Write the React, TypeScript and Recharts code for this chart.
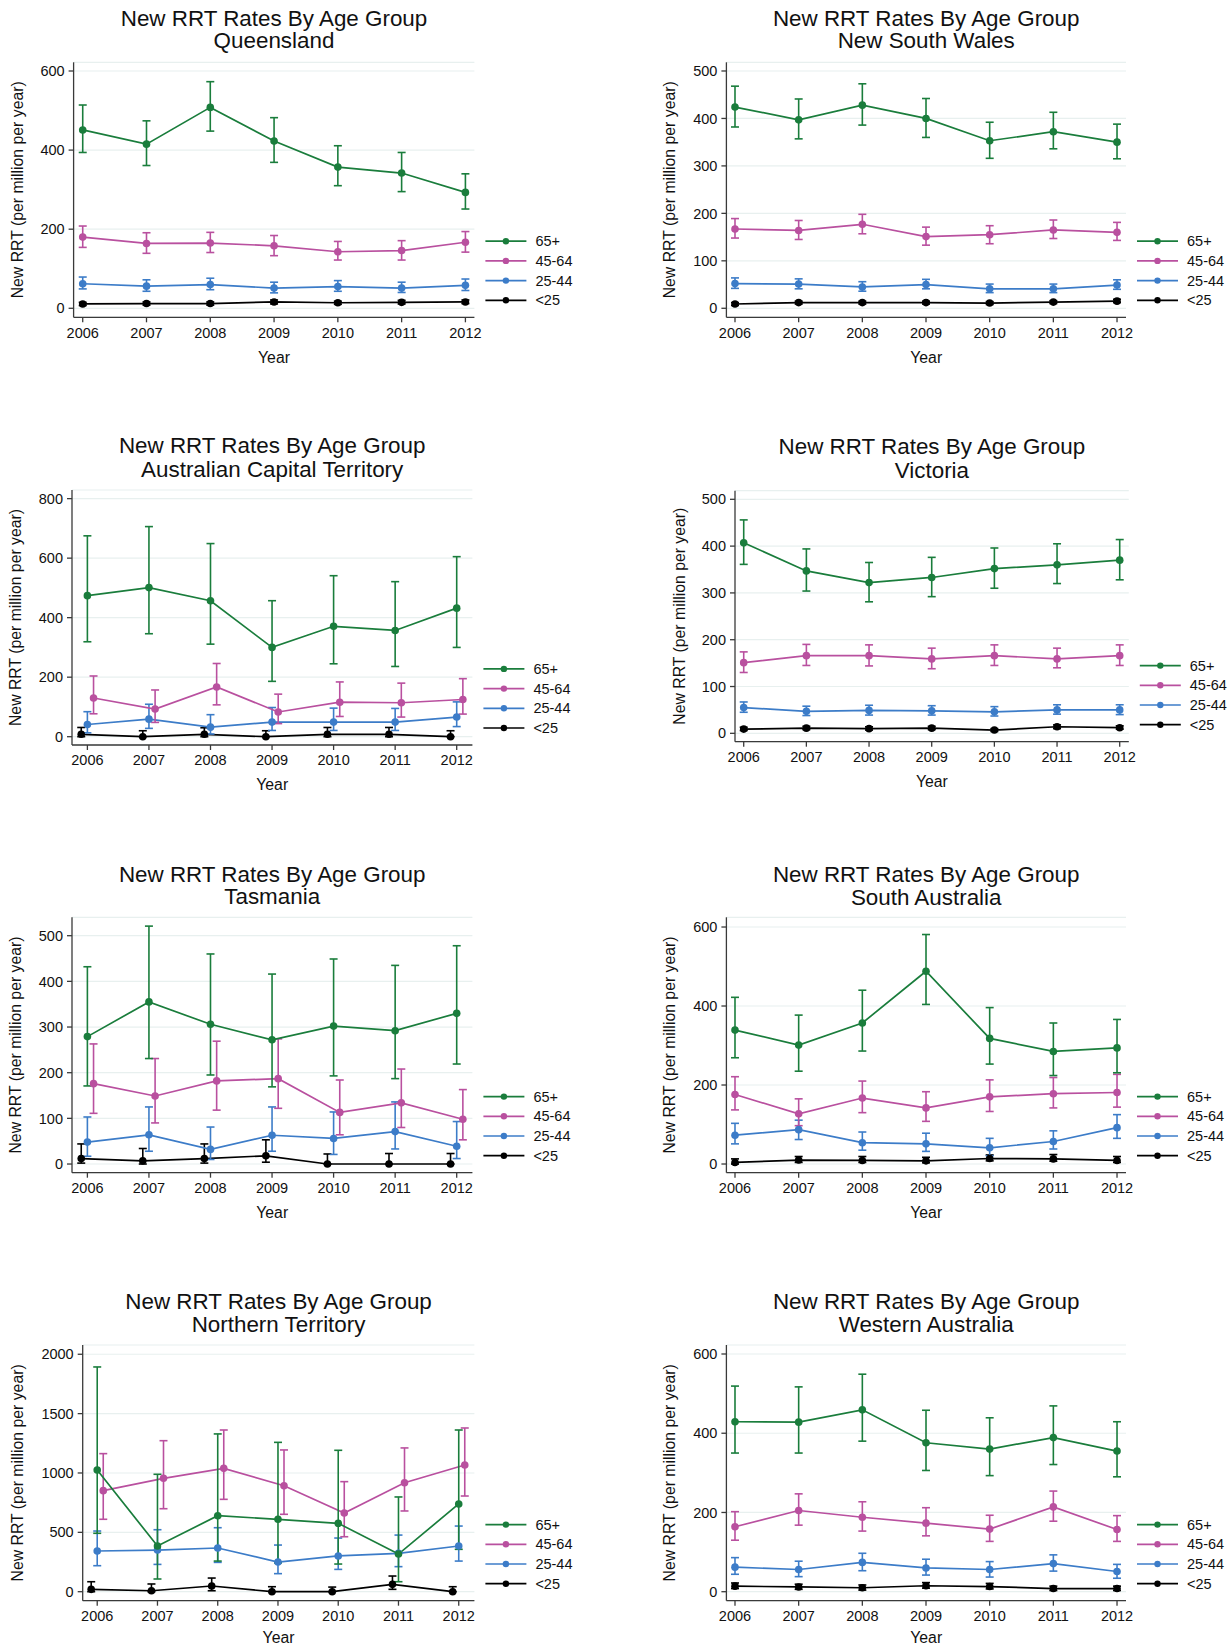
import React from 'react';
import { LineChart, Line, XAxis, YAxis, CartesianGrid, ErrorBar } from 'recharts';

// ---------- shared categories ----------
const YEARS = [2006, 2007, 2008, 2009, 2010, 2011, 2012];
const AGE_GROUPS = ['65+', '45-64', '25-44', '<25'];
const GROUP_COLORS = ['#1a7d3c', '#b9509f', '#3c7cc8', '#000000'];
const TITLE_LINE1 = 'New RRT Rates By Age Group';
const Y_TITLE = 'New RRT (per million per year)';
const X_TITLE = 'Year';

// ---------- Queensland ----------
const QLD_65 = [451, 415, 508, 423, 357, 342, 293];
const QLD_65_LO = [394, 361, 448, 369, 310, 295, 251];
const QLD_65_HI = [514, 474, 573, 482, 411, 394, 340];
const QLD_45 = [180, 164, 165, 158, 143, 146, 167];
const QLD_45_LO = [154, 139, 141, 133, 122, 122, 142];
const QLD_45_HI = [208, 191, 192, 184, 169, 171, 194];
const QLD_25 = [62, 56, 60, 51, 55, 51, 58];
const QLD_25_LO = [49, 43, 47, 39, 43, 40, 45];
const QLD_25_HI = [79, 72, 76, 66, 70, 66, 74];
const QLD_U25 = [11, 12, 12, 16, 14, 15, 16];
const QLD_U25_LO = [7, 8, 8, 11, 10, 11, 12];
const QLD_U25_HI = [15, 16, 16, 21, 18, 20, 21];

// ---------- New South Wales ----------
const NSW_65 = [424, 397, 428, 400, 353, 372, 350];
const NSW_65_LO = [382, 357, 386, 360, 316, 336, 315];
const NSW_65_HI = [468, 441, 473, 442, 392, 413, 388];
const NSW_45 = [167, 164, 177, 151, 155, 165, 160];
const NSW_45_LO = [148, 145, 157, 133, 136, 147, 143];
const NSW_45_HI = [189, 185, 198, 171, 174, 186, 181];
const NSW_25 = [52, 51, 45, 50, 41, 41, 49];
const NSW_25_LO = [42, 41, 36, 41, 33, 33, 40];
const NSW_25_HI = [64, 62, 56, 61, 51, 51, 60];
const NSW_U25 = [9, 12, 12, 12, 11, 13, 15];
const NSW_U25_LO = [6, 9, 9, 9, 8, 10, 12];
const NSW_U25_HI = [12, 15, 15, 15, 14, 16, 19];

// ---------- Australian Capital Territory ----------
const ACT_65 = [474, 501, 457, 300, 371, 357, 432];
const ACT_65_LO = [319, 346, 311, 186, 245, 236, 300];
const ACT_65_HI = [675, 706, 649, 457, 541, 521, 605];
const ACT_45 = [130, 93, 167, 83, 116, 114, 125];
const ACT_45_LO = [77, 48, 107, 44, 68, 66, 76];
const ACT_45_HI = [204, 157, 246, 143, 184, 180, 195];
const ACT_25 = [41, 59, 32, 49, 49, 49, 66];
const ACT_25_LO = [13, 28, 9, 21, 21, 21, 34];
const ACT_25_HI = [84, 109, 74, 98, 96, 95, 117];
const ACT_U25 = [8, 0, 8, 0, 8, 8, 0];
const ACT_U25_LO = [0, 0, 0, 0, 0, 0, 0];
const ACT_U25_HI = [31, 20, 30, 20, 31, 31, 20];

// ---------- Victoria ----------
const VIC_65 = [407, 347, 322, 333, 352, 360, 370];
const VIC_65_LO = [361, 304, 281, 292, 310, 320, 328];
const VIC_65_HI = [456, 394, 365, 376, 396, 405, 414];
const VIC_45 = [151, 166, 166, 159, 166, 159, 166];
const VIC_45_LO = [130, 145, 144, 138, 145, 140, 145];
const VIC_45_HI = [174, 190, 189, 182, 189, 182, 189];
const VIC_25 = [55, 47, 49, 48, 46, 50, 50];
const VIC_25_LO = [45, 38, 39, 39, 37, 41, 40];
const VIC_25_HI = [67, 58, 60, 59, 57, 61, 61];
const VIC_U25 = [9, 11, 10, 11, 7, 14, 12];
const VIC_U25_LO = [6, 8, 7, 8, 4, 10, 9];
const VIC_U25_HI = [13, 15, 14, 15, 10, 18, 16];

// ---------- Tasmania ----------
const TAS_65 = [279, 355, 306, 272, 302, 292, 330];
const TAS_65_LO = [171, 231, 195, 169, 193, 187, 219];
const TAS_65_HI = [432, 521, 460, 416, 449, 435, 478];
const TAS_45 = [176, 149, 182, 187, 113, 134, 98];
const TAS_45_LO = [111, 90, 118, 122, 64, 80, 53];
const TAS_45_HI = [263, 231, 269, 274, 184, 208, 163];
const TAS_25 = [48, 64, 32, 63, 56, 71, 39];
const TAS_25_LO = [17, 28, 10, 28, 21, 33, 12];
const TAS_25_HI = [103, 125, 81, 125, 114, 136, 93];
const TAS_U25 = [12, 7, 12, 18, 0, 0, 0];
const TAS_U25_LO = [2, 0, 2, 4, 0, 0, 0];
const TAS_U25_HI = [44, 34, 44, 53, 22, 23, 23];

// ---------- South Australia ----------
const SA_65 = [339, 301, 357, 488, 318, 285, 294];
const SA_65_LO = [269, 235, 286, 404, 253, 224, 231];
const SA_65_HI = [422, 377, 440, 581, 396, 357, 366];
const SA_45 = [176, 127, 167, 142, 170, 178, 181];
const SA_45_LO = [137, 97, 130, 108, 133, 142, 144];
const SA_45_HI = [221, 165, 210, 183, 213, 219, 227];
const SA_25 = [73, 87, 54, 51, 41, 57, 92];
const SA_25_LO = [51, 62, 35, 32, 21, 38, 65];
const SA_25_HI = [103, 111, 81, 78, 65, 84, 125];
const SA_U25 = [4, 10, 9, 8, 14, 13, 9];
const SA_U25_LO = [0, 4, 4, 3, 8, 7, 4];
const SA_U25_HI = [13, 19, 19, 17, 23, 24, 19];

// ---------- Northern Territory ----------
const NT_65 = [1025, 385, 640, 610, 576, 317, 739];
const NT_65_LO = [492, 107, 258, 242, 233, 84, 357];
const NT_65_HI = [1893, 989, 1329, 1258, 1191, 798, 1362];
const NT_45 = [851, 955, 1039, 893, 663, 918, 1067];
const NT_45_LO = [610, 699, 778, 652, 463, 680, 806];
const NT_45_HI = [1163, 1272, 1362, 1194, 927, 1211, 1379];
const NT_25 = [343, 351, 368, 250, 301, 323, 385];
const NT_25_LO = [219, 230, 247, 152, 188, 211, 258];
const NT_25_HI = [511, 522, 539, 393, 452, 477, 553];
const NT_U25 = [20, 8, 48, 0, 0, 62, 0];
const NT_U25_LO = [0, 0, 8, 0, 0, 20, 0];
const NT_U25_HI = [84, 65, 115, 42, 39, 132, 42];

// ---------- Western Australia ----------
const WA_65 = [429, 428, 459, 376, 360, 389, 355];
const WA_65_LO = [350, 350, 380, 306, 293, 321, 290];
const WA_65_HI = [519, 517, 549, 458, 439, 469, 429];
const WA_45 = [164, 205, 188, 173, 158, 214, 157];
const WA_45_LO = [130, 168, 153, 141, 127, 178, 127];
const WA_45_HI = [202, 247, 227, 212, 193, 254, 192];
const WA_25 = [62, 56, 74, 60, 56, 71, 51];
const WA_25_LO = [44, 38, 53, 42, 37, 52, 34];
const WA_25_HI = [86, 77, 97, 82, 76, 93, 69];
const WA_U25 = [14, 12, 10, 15, 13, 8, 8];
const WA_U25_LO = [8, 6, 4, 9, 7, 3, 3];
const WA_U25_HI = [22, 19, 17, 23, 21, 14, 14];

// ---------- y tick labels ----------
const TICKS_600 = [0, 200, 400, 600];
const TICKS_500 = [0, 100, 200, 300, 400, 500];
const TICKS_800 = [0, 200, 400, 600, 800];
const TICKS_2000 = [0, 500, 1000, 1500, 2000];

type S = { v: number[]; lo: number[]; hi: number[] };
const s = (v: number[], lo: number[], hi: number[]): S => ({ v, lo, hi });

type PanelCfg = {
  region: string;
  series: S[]; // order: 65+, 45-64, 25-44, <25
  ox: number; oy: number; w: number; h: number;
  l: number; t: number; r: number; b: number;
  xDomain: [number, number];
  yDomain: [number, number];
  yTicks: number[];
  shift: number;
  titleY: [number, number];
  yLabelX: number;
  xLabelGap: number;
};

const PANELS: PanelCfg[] = [
  {
    region: 'Queensland',
    series: [s(QLD_65, QLD_65_LO, QLD_65_HI), s(QLD_45, QLD_45_LO, QLD_45_HI), s(QLD_25, QLD_25_LO, QLD_25_HI), s(QLD_U25, QLD_U25_LO, QLD_U25_HI)],
    ox: 0, oy: 0, w: 615, h: 420, l: 73.6, t: 62.3, r: 474.4, b: 317.3,
    xDomain: [2005.857, 2012.141], yDomain: [-22.8, 622], yTicks: TICKS_600, shift: 0,
    titleY: [18.5, 40.5], yLabelX: 17.7, xLabelGap: 39.7,
  },
  {
    region: 'New South Wales',
    series: [s(NSW_65, NSW_65_LO, NSW_65_HI), s(NSW_45, NSW_45_LO, NSW_45_HI), s(NSW_25, NSW_25_LO, NSW_25_HI), s(NSW_U25, NSW_U25_LO, NSW_U25_HI)],
    ox: 615, oy: 0, w: 616, h: 420, l: 111.4, t: 62.3, r: 511, b: 317.3,
    xDomain: [2005.865, 2012.141], yDomain: [-19, 518.3], yTicks: TICKS_500, shift: 0,
    titleY: [18.5, 40.5], yLabelX: 55, xLabelGap: 39.7,
  },
  {
    region: 'Australian Capital Territory',
    series: [s(ACT_65, ACT_65_LO, ACT_65_HI), s(ACT_45, ACT_45_LO, ACT_45_HI), s(ACT_25, ACT_25_LO, ACT_25_HI), s(ACT_U25, ACT_U25_LO, ACT_U25_HI)],
    ox: 0, oy: 420, w: 615, h: 425, l: 72, t: 70, r: 472.4, b: 325,
    xDomain: [2005.75, 2012.255], yDomain: [-27.9, 829], yTicks: TICKS_800, shift: 0.1,
    titleY: [25.5, 48.8], yLabelX: 15.7, xLabelGap: 39.7,
  },
  {
    region: 'Victoria',
    series: [s(VIC_65, VIC_65_LO, VIC_65_HI), s(VIC_45, VIC_45_LO, VIC_45_HI), s(VIC_25, VIC_25_LO, VIC_25_HI), s(VIC_U25, VIC_U25_LO, VIC_U25_HI)],
    ox: 615, oy: 420, w: 616, h: 425, l: 120, t: 70.7, r: 513.8, b: 321.7,
    xDomain: [2005.861, 2012.145], yDomain: [-17.9, 518.4], yTicks: TICKS_500, shift: 0,
    titleY: [26.2, 49.8], yLabelX: 65, xLabelGap: 39.7,
  },
  {
    region: 'Tasmania',
    series: [s(TAS_65, TAS_65_LO, TAS_65_HI), s(TAS_45, TAS_45_LO, TAS_45_HI), s(TAS_25, TAS_25_LO, TAS_25_HI), s(TAS_U25, TAS_U25_LO, TAS_U25_HI)],
    ox: 0, oy: 845, w: 615, h: 425, l: 72, t: 72.3, r: 472.4, b: 327.7,
    xDomain: [2005.75, 2012.255], yDomain: [-19, 540.3], yTicks: TICKS_500, shift: 0.1,
    titleY: [28.8, 51.2], yLabelX: 15.7, xLabelGap: 39.7,
  },
  {
    region: 'South Australia',
    series: [s(SA_65, SA_65_LO, SA_65_HI), s(SA_45, SA_45_LO, SA_45_HI), s(SA_25, SA_25_LO, SA_25_HI), s(SA_U25, SA_U25_LO, SA_U25_HI)],
    ox: 615, oy: 845, w: 616, h: 425, l: 111.4, t: 72.3, r: 511, b: 327.7,
    xDomain: [2005.865, 2012.141], yDomain: [-22, 624.6], yTicks: TICKS_600, shift: 0,
    titleY: [28.8, 51.7], yLabelX: 55, xLabelGap: 39.7,
  },
  {
    region: 'Northern Territory',
    series: [s(NT_65, NT_65_LO, NT_65_HI), s(NT_45, NT_45_LO, NT_45_HI), s(NT_25, NT_25_LO, NT_25_HI), s(NT_U25, NT_U25_LO, NT_U25_HI)],
    ox: 0, oy: 1270, w: 615, h: 377, l: 82.7, t: 75, r: 474.4, b: 330.7,
    xDomain: [2005.759, 2012.26], yDomain: [-75.8, 2078], yTicks: TICKS_2000, shift: 0.1,
    titleY: [31.2, 53.8], yLabelX: 17.7, xLabelGap: 36.5,
  },
  {
    region: 'Western Australia',
    series: [s(WA_65, WA_65_LO, WA_65_HI), s(WA_45, WA_45_LO, WA_45_HI), s(WA_25, WA_25_LO, WA_25_HI), s(WA_U25, WA_U25_LO, WA_U25_HI)],
    ox: 615, oy: 1270, w: 616, h: 377, l: 111.4, t: 75, r: 511, b: 330.7,
    xDomain: [2005.865, 2012.141], yDomain: [-22.7, 622.7], yTicks: TICKS_600, shift: 0,
    titleY: [31.2, 53.8], yLabelX: 55, xLabelGap: 36.5,
  },
];

const AXIS_COLOR = '#3a3a3a';
const TEXT_COLOR = '#111111';
const GRID_COLOR = '#e8f0ef';

function buildData(ser: S, shift: number) {
  return YEARS.map((yr, i) => ({
    x: yr + shift,
    y: ser.v[i],
    err: [ser.v[i] - ser.lo[i], ser.hi[i] - ser.v[i]],
  }));
}

function Panel({ cfg }: { cfg: PanelCfg }) {
  const { ox, oy, w, h, l, t, r, b } = cfg;
  const shifts = [0, cfg.shift, 0, -cfg.shift];
  const cx = (l + r) / 2;
  const cy = (t + b) / 2;
  const drawOrder = [3, 2, 1, 0];
  return (
    <div style={{ position: 'absolute', left: ox, top: oy, width: w, height: h }}>
      <LineChart width={w} height={h} margin={{ top: t, right: w - r, left: 0, bottom: 0 }}>
        <CartesianGrid horizontal vertical={false} stroke={GRID_COLOR} strokeWidth={1.2} />
        <XAxis
          type="number"
          dataKey="x"
          domain={cfg.xDomain}
          ticks={YEARS}
          interval={0}
          allowDataOverflow
          height={h - b}
          tickSize={5}
          tickMargin={5}
          axisLine={{ stroke: AXIS_COLOR, strokeWidth: 1.3 }}
          tickLine={{ stroke: AXIS_COLOR, strokeWidth: 1.3 }}
          tick={{ fontSize: 14.5, fill: TEXT_COLOR }}
        />
        <YAxis
          type="number"
          domain={cfg.yDomain}
          ticks={cfg.yTicks}
          interval={0}
          allowDataOverflow
          width={l}
          tickSize={5}
          tickMargin={4}
          axisLine={{ stroke: AXIS_COLOR, strokeWidth: 1.3 }}
          tickLine={{ stroke: AXIS_COLOR, strokeWidth: 1.3 }}
          tick={{ fontSize: 14.5, fill: TEXT_COLOR }}
        />
        {drawOrder.map((gi) => {
          const color = GROUP_COLORS[gi];
          return (
            <Line
              key={AGE_GROUPS[gi]}
              name={AGE_GROUPS[gi]}
              data={buildData(cfg.series[gi], shifts[gi])}
              dataKey="y"
              type="linear"
              stroke={color}
              strokeWidth={1.7}
              dot={{ r: 3.8, fill: color, stroke: color, strokeWidth: 0 }}
              activeDot={false}
              isAnimationActive={false}
            >
              <ErrorBar dataKey="err" direction="y" width={4} stroke={color} strokeWidth={1.6} />
            </Line>
          );
        })}
      </LineChart>
      <svg
        width={w}
        height={h}
        style={{ position: 'absolute', left: 0, top: 0, pointerEvents: 'none' }}
      >
        <text x={cx} y={cfg.titleY[0]} dy="0.35em" textAnchor="middle" fontSize={22.4} fill={TEXT_COLOR}>
          {TITLE_LINE1}
        </text>
        <text x={cx} y={cfg.titleY[1]} dy="0.35em" textAnchor="middle" fontSize={22.4} fill={TEXT_COLOR}>
          {cfg.region}
        </text>
        <text
          transform={`translate(${cfg.yLabelX},${cy}) rotate(-90)`}
          dy="0.33em"
          textAnchor="middle"
          fontSize={15.8}
          fill={TEXT_COLOR}
        >
          {Y_TITLE}
        </text>
        <text x={cx} y={b + cfg.xLabelGap} dy="0.35em" textAnchor="middle" fontSize={15.8} fill={TEXT_COLOR}>
          {X_TITLE}
        </text>
        {AGE_GROUPS.map((g, i) => {
          const yy = b - 17 - (3 - i) * 19.7;
          const x1 = r + 11;
          const x2 = r + 52;
          const color = GROUP_COLORS[i];
          return (
            <g key={g}>
              <line x1={x1} x2={x2} y1={yy} y2={yy} stroke={color} strokeWidth={1.7} />
              <circle cx={(x1 + x2) / 2} cy={yy} r={3.2} fill={color} />
              <text x={r + 61} y={yy} dy="0.35em" fontSize={14.5} fill={TEXT_COLOR}>
                {g}
              </text>
            </g>
          );
        })}
      </svg>
    </div>
  );
}

export default function App() {
  return (
    <div
      style={{
        position: 'absolute',
        left: 0,
        top: 0,
        width: 1231,
        height: 1647,
        background: '#ffffff',
        fontFamily: '"Liberation Sans", Arial, Helvetica, sans-serif',
        overflow: 'hidden',
      }}
    >
      {PANELS.map((p) => (
        <Panel key={p.region} cfg={p} />
      ))}
    </div>
  );
}
